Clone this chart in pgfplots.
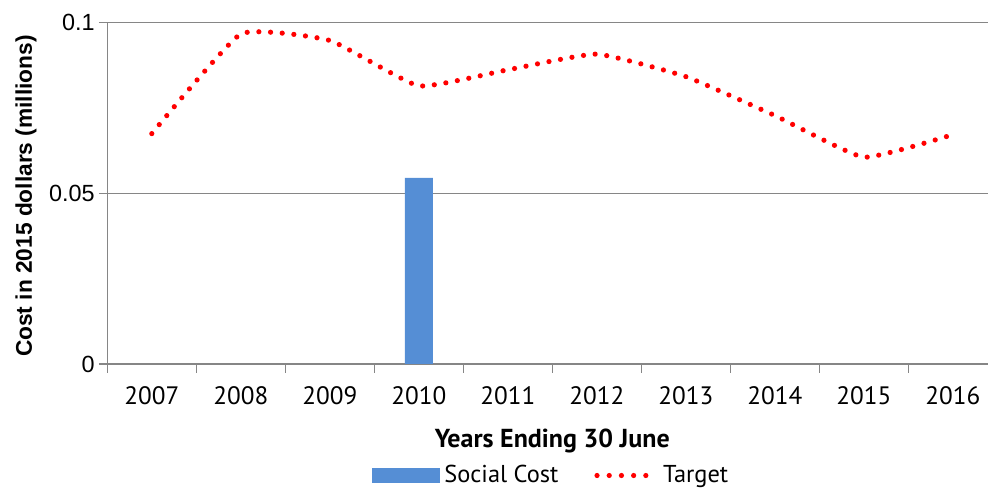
\documentclass[border=0pt]{standalone}
\usepackage{fontspec}
\usepackage{pgfplots}
\pgfplotsset{compat=1.18}
\setmainfont{PT Sans}
\newfontfamily\arialf{Liberation Sans}
\definecolor{barblue}{RGB}{85,142,213}
\definecolor{axgray}{RGB}{134,134,134}
\begin{document}
\begin{tikzpicture}
\begin{axis}[
  at={(53.65bp,62.5bp)}, anchor=south west,
  scale only axis, width=445bp, height=170.65bp,
  xmin=-0.5, xmax=9.5, ymin=0, ymax=0.1,
  axis x line*=bottom, axis y line*=left,
  axis line style={axgray, line width=0.75bp},
  tick style={axgray, line width=0.75bp},
  tick align=outside,
  major tick length=4.25bp,
  xtick={-0.5,0.5,...,9.5},
  x tick label as interval,
  xticklabels={2007,2008,2009,2010,2011,2012,2013,2014,2015,2016},
  xticklabel style={font=\fontsize{12.6bp}{15bp}\selectfont, text=black, yshift=-3.5bp},
  ytick={0,0.05,0.1}, yticklabels={0,0.05,0.1},
  yticklabel style={font=\arialf\fontsize{11.7bp}{13bp}\selectfont, text=black, xshift=1.5bp},
  ymajorgrids, grid style={axgray, line width=0.75bp},
  xlabel={Years Ending 30 June},
  xlabel style={font=\bfseries\fontsize{13bp}{15bp}\selectfont, at={(axis description cs:0.5,-0.2461)}, anchor=base},
  ylabel={Cost in 2015 dollars (millions)},
  ylabel style={font=\arialf\bfseries\fontsize{11.35bp}{13bp}\selectfont, at={(axis description cs:-0.0913,0.492)}, anchor=center},
  legend columns=2,
  legend style={draw=none, fill=none, at={(axis description cs:0.5,-0.3267)}, anchor=center,
    font=\fontsize{12.2bp}{14bp}\selectfont,
    /tikz/every even column/.append style={column sep=16bp}},
]
\addplot[ybar, bar width=14bp, fill=barblue, draw=none,
  legend image code/.code={\fill[barblue] (0bp,-3.75bp) rectangle (34bp,3.75bp);}]
  coordinates {(0,0) (1,0) (2,0) (3,0.0545) (4,0) (5,0) (6,0) (7,0) (8,0) (9,0)};
\addlegendentry{Social Cost}
\addplot[red, smooth, tension=0.25, line width=2.6bp, line cap=round, dash pattern=on 0pt off 5.85bp, mark=none,
  legend image code/.code={\draw[red, line width=2.6bp, line cap=round, dash pattern=on 0pt off 6.1bp] (1.3bp,0bp) -- (31bp,0bp);}]
  coordinates {(0,0.0675) (1,0.0967) (2,0.0948) (3,0.0815) (4,0.0862) (5,0.0908) (6,0.0842) (7,0.0728) (8,0.0606) (9,0.0672)};
\addlegendentry{Target}
\end{axis}
\pgfresetboundingbox
\path (0,0) rectangle (494bp,244.5bp);
\end{tikzpicture}
\end{document}
